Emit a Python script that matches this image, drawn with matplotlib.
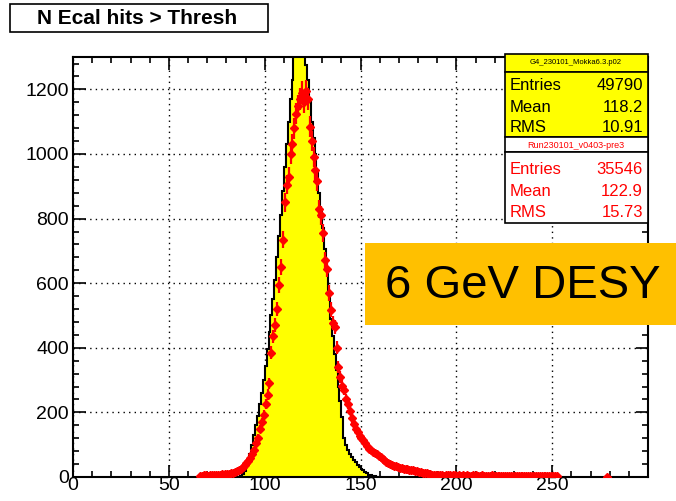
import numpy as np
import matplotlib
matplotlib.use("Agg")
import matplotlib.pyplot as plt
from matplotlib.patches import Rectangle
from matplotlib.ticker import MultipleLocator

plt.rcParams["font.family"] = ["Liberation Sans", "DejaVu Sans"]

# simulation histogram (yellow), 1-unit bins starting at 85
sim_start = 85
sim_counts = [0, 0, 2, 8, 18, 30, 48, 70, 98, 130,
              160, 190, 225, 260, 300, 345, 395, 450, 500, 550,
              610, 680, 745, 810, 885, 960, 1030, 1100, 1170, 1230,
              1310, 1380, 1420, 1440, 1400, 1330, 1275, 1230, 1160, 1100,
              1050, 1000, 940, 880, 825, 770, 705, 640, 565, 490,
              435, 380, 330, 280, 235, 185, 120, 100, 85, 72,
              62, 53, 45, 38, 31, 25, 20, 15, 11, 7,
              5, 3, 2, 1, 1, 0]

# data points (red), 1-unit bins starting at 66
data_start = 66
data_counts = [3, 4, 6, 5, 4, 6, 5, 7, 6, 5,
               7, 8, 7, 9, 8, 10, 12, 13, 16, 19,
               22, 26, 31, 36, 42, 50, 60, 72, 85, 105,
               122, 150, 170, 192, 225, 255, 290, 385, 435, 470,
               520, 595, 650, 735, 850, 905, 930, 1000, 1030, 1080,
               1125, 1150, 1170, 1190, 1160, 1195, 1170, 1085, 1040, 990,
               950, 915, 830, 810, 755, 672, 645, 570, 518, 478,
               465, 400, 340, 310, 282, 270, 240, 226, 205, 182,
               164, 150, 138, 128, 122, 115, 104, 96, 88, 82,
               78, 74, 70, 66, 62, 56, 51, 47, 44, 41,
               38, 35, 33, 31, 29, 28, 26, 25, 24, 23,
               22, 21, 19, 17, 16, 15, 13, 12, 11, 10,
               8, 7, 6, 6, 7, 5, 6, 4, 6, 5,
               7, 4, 5, 6, 4, 5, 3, 6, 4, 5,
               4, 3, 5, 4, 6, 3, 4, 5, 3, 4,
               4, 3, 5, 3, 4, 3, 4, 2, 4, 3,
               3, 4, 2, 3, 4, 3, 2, 3, 3, 2,
               4, 2, 3, 3, 2, 3, 2, 3, 2, 3,
               2, 2, 3, 2, 2, 3, 2]
data_extra_x = [278]
data_extra = [1]

sim_title = "G4_230101_Mokka6.3.p02"
sim_stats = [("Entries", "49790"), ("Mean", "118.2"), ("RMS", "10.91")]
data_title = "Run230101_v0403-pre3"
data_stats = [("Entries", "35546"), ("Mean", "122.9"), ("RMS", "15.73")]

W, H = 676, 501
fig = plt.figure(figsize=(W / 100, H / 100), dpi=100)
fig.set_facecolor("white")
ax = fig.add_axes([0.108, 0.048, 0.8506, 0.838])

edges = sim_start + np.arange(len(sim_counts) + 1)
ax.stairs(sim_counts, edges, fill=True, color="#ffff00", zorder=2)
ax.stairs(sim_counts, edges, color="black", lw=1.5, zorder=3)

dx = np.concatenate([data_start + 0.5 + np.arange(len(data_counts)),
                     np.array(data_extra_x) + 0.5])
dy = np.concatenate([data_counts, data_extra]).astype(float)
ax.errorbar(dx, dy, xerr=0.5, yerr=np.sqrt(dy), fmt="D", ms=4.2,
            color="#ff0000", ecolor="#ff0000", elinewidth=1.6, capsize=0,
            zorder=4)

ax.set_xlim(0, 300)
ax.set_ylim(0, 1300)
ax.xaxis.set_major_locator(MultipleLocator(50))
ax.xaxis.set_minor_locator(MultipleLocator(10))
ax.yaxis.set_major_locator(MultipleLocator(200))
ax.yaxis.set_minor_locator(MultipleLocator(40))
ax.set_xticks([0, 50, 100, 150, 200, 250])
ax.tick_params(which="both", direction="in", top=True, right=True,
               width=1.2, labelsize=14, pad=3)
ax.tick_params(which="major", length=9)
ax.tick_params(which="minor", length=4.5)
ax.tick_params(axis="x", pad=0)
ax.grid(True, which="major", color="black", ls=(0, (1, 3)), lw=1.0, zorder=1)
ax.set_axisbelow(True)
for s in ax.spines.values():
    s.set_linewidth(1.5)


def px(x, y):
    return x / W, 1 - y / H


def box(x0, y0, x1, y1, fc, ec="black"):
    fig.patches.append(Rectangle(px(x0, y1), (x1 - x0) / W, (y1 - y0) / H,
                                 transform=fig.transFigure, fc=fc, ec=ec,
                                 lw=1.2, zorder=5))


# title box
box(10, 4, 268, 32, "white")
fig.text(*px(137, 18.5), "N Ecal hits > Thresh", ha="center", va="center",
         fontsize=15, fontweight="bold", zorder=6)

# stats boxes
box(505, 54, 648, 72, "#ffff00")
box(505, 72, 648, 137, "#ffff00")
box(505, 137, 648, 152, "white")
box(505, 152, 648, 223, "white")

fig.text(*px(576, 63), sim_title, ha="center", va="center", fontsize=5.5,
         color="black", zorder=6)
for i, (k, v) in enumerate(sim_stats):
    y = 86 + i * 21
    fig.text(*px(510, y), k, ha="left", va="center", fontsize=12, zorder=6)
    fig.text(*px(643, y), v, ha="right", va="center", fontsize=12, zorder=6)

fig.text(*px(576, 145), data_title, ha="center", va="center", fontsize=6.5,
         color="#ff0000", zorder=6)
for i, (k, v) in enumerate(data_stats):
    y = 170 + i * 21
    fig.text(*px(510, y), k, ha="left", va="center", fontsize=12,
             color="#ff0000", zorder=6)
    fig.text(*px(643, y), v, ha="right", va="center", fontsize=12,
             color="#ff0000", zorder=6)

# label box
box(365, 243, 676, 325, "#ffc000", ec="none")
fig.text(*px(523, 286), "6 GeV DESY", ha="center", va="center", fontsize=34,
         color="black", zorder=6)

fig.savefig("out.png", dpi=100)
